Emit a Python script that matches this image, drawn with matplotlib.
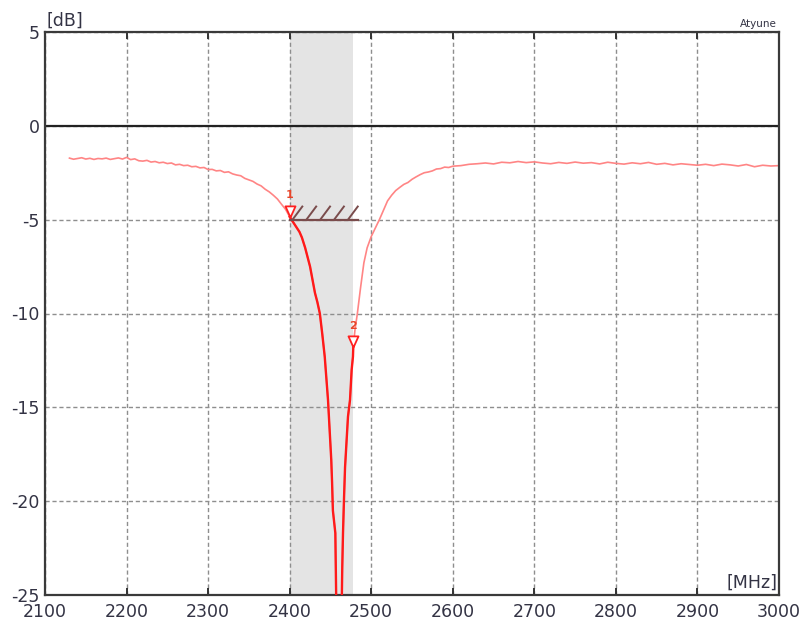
import matplotlib
matplotlib.use("Agg")
import matplotlib.pyplot as plt
import numpy as np

plt.rcParams["axes.unicode_minus"] = False

# ---- data ----
freq_mhz = [2130, 2135, 2140, 2145, 2150, 2155, 2160, 2165, 2170, 2175, 2180, 2185, 2190, 2195,
            2200, 2205, 2210, 2215, 2220, 2225, 2230, 2235, 2240, 2245, 2250, 2255, 2260, 2265,
            2270, 2275, 2280, 2285, 2290, 2295, 2300, 2305, 2310, 2315, 2320, 2325, 2330, 2335,
            2340, 2345, 2350, 2355, 2360, 2365, 2370, 2375, 2380, 2385, 2390, 2395,
            2400, 2403, 2406, 2409, 2412, 2415, 2419, 2422, 2425, 2428, 2431, 2434, 2437, 2440,
            2443, 2447, 2449, 2451, 2452, 2453, 2456, 2457, 2459, 2462, 2464, 2464.5, 2465.4,
            2466.6, 2467.9, 2470.3, 2471.5, 2474, 2476, 2477.6,
            2478, 2480, 2483, 2487, 2491, 2495, 2500, 2505, 2510, 2515, 2520, 2525, 2530, 2535,
            2540, 2545, 2550, 2555, 2560, 2565, 2570, 2575, 2580, 2585, 2590, 2595, 2600, 2610,
            2620, 2630, 2640, 2650, 2660, 2670, 2680, 2690, 2700, 2710, 2720, 2730, 2740, 2750,
            2760, 2770, 2780, 2790, 2800, 2810, 2820, 2830, 2840, 2850, 2860, 2870, 2880, 2890,
            2900, 2910, 2920, 2930, 2940, 2950, 2960, 2970, 2980, 2990, 3000]
trace_db = [-1.72, -1.78, -1.74, -1.70, -1.77, -1.73, -1.79, -1.74, -1.76, -1.72, -1.79, -1.75, -1.71, -1.77,
            -1.68, -1.80, -1.76, -1.86, -1.88, -1.84, -1.93, -1.90, -1.97, -1.94, -2.01, -1.98, -2.08, -2.05,
            -2.12, -2.10, -2.18, -2.16, -2.24, -2.22, -2.33, -2.32, -2.40, -2.38, -2.48, -2.45, -2.56, -2.62,
            -2.66, -2.80, -2.88, -2.96, -3.10, -3.20, -3.38, -3.52, -3.70, -3.90, -4.18, -4.45,
            -4.85, -5.05, -5.25, -5.45, -5.65, -5.95, -6.50, -7.00, -7.50, -8.20, -8.90, -9.40, -10.0, -11.1,
            -12.3, -14.6, -16.2, -17.8, -19.0, -20.5, -21.7, -25.0, -28.0, -28.0, -25.0, -23.5, -21.7,
            -19.9, -18.2, -16.4, -15.5, -14.6, -13.0, -12.3,
            -11.8, -10.9, -10.0, -8.6, -7.3, -6.5, -5.9, -5.45, -5.0, -4.5, -4.0, -3.7, -3.45, -3.28,
            -3.12, -3.02, -2.85, -2.72, -2.60, -2.50, -2.46, -2.40, -2.30, -2.28, -2.20, -2.22, -2.15, -2.12,
            -2.05, -2.02, -1.98, -2.03, -1.94, -1.97, -1.90, -1.96, -1.92, -1.98, -2.02, -1.95, -2.00, -1.93,
            -1.99, -1.96, -2.03, -1.94, -2.00, -2.04, -1.97, -2.02, -1.95, -2.05, -2.00, -2.08, -2.02, -2.06,
            -2.10, -2.05, -2.12, -2.04, -2.08, -2.14, -2.06, -2.18, -2.10, -2.14, -2.12]

marker_freq = [2400, 2478]
marker_db = [-4.85, -11.8]
marker_labels = ["1", "2"]

band_span = (2400, 2478)
limit_span = (2400, 2483.5)
limit_db = -5

x_ticks = list(range(2100, 3001, 100))
y_ticks = list(range(-25, 6, 5))

# ---- plot ----
fig = plt.figure(figsize=(8.03, 6.22), dpi=100)
ax = fig.add_axes([45 / 803, 27 / 622, 734 / 803, 563 / 622])

ax.set_xlim(2100, 3000)
ax.set_ylim(-25, 5)
ax.set_xticks(x_ticks)
ax.set_yticks(y_ticks)

ax.axvspan(*band_span, color="#e4e4e4", zorder=0.1, lw=0)
ax.set_axisbelow(True)
ax.grid(True, color="#8e8e8e", linestyle=(0, (3, 2)), linewidth=1.0)
ax.axhline(0, color="#222222", lw=1.6, zorder=1)

f = np.array(freq_mhz)
d = np.array(trace_db)
ax.plot(f, d, color="#ff8585", lw=1.2, zorder=2)
seg = (f >= marker_freq[0]) & (f <= marker_freq[1])
ax.plot(f[seg], d[seg], color="#ff1a1a", lw=1.7, zorder=3)

# limit line with hatch marks
lim_color = "#7a4c4c"
hatch_w = 12
ax.plot(limit_span, [limit_db, limit_db], color=lim_color, lw=1.6, zorder=4)
for x0 in np.arange(limit_span[0] + 3.5, limit_span[1] - hatch_w + 0.5, 17):
    ax.plot([x0, x0 + hatch_w], [limit_db, limit_db + 0.7], color=lim_color, lw=1.4, zorder=4)

# markers
tri = [(0, 0), (-0.9, 2), (0.9, 2), (0, 0)]
for mf, md, ml in zip(marker_freq, marker_db, marker_labels):
    ax.plot([mf], [md], marker=tri, markersize=16, markerfacecolor="white",
            markeredgecolor="#ff2020", markeredgewidth=1.3, ls="none", zorder=5)
    ax.annotate(ml, (mf, md), xytext=(0, 12), textcoords="offset points",
                ha="center", va="bottom", fontsize=8, fontweight="bold", color="#e8452a", zorder=6)

for s in ax.spines.values():
    s.set_color("#3a3a3a")
    s.set_linewidth(1.6)

ax.tick_params(axis="x", direction="in", length=5, width=1.4, color="#333333",
               top=True, bottom=True, labelsize=12.5, labelcolor="#333344", pad=6)
ax.tick_params(axis="y", length=0, labelsize=12.5, labelcolor="#333344", pad=4)

fig.text(47 / 803, 1 - 30 / 622, "[dB]", fontsize=12.5, color="#333344", ha="left", va="bottom")
ax.text(0.998, 0.005, "[MHz]", transform=ax.transAxes, fontsize=12.5, color="#333344",
        ha="right", va="bottom")
fig.text(777 / 803, 1 - 29 / 622, "Atyune", fontsize=7.5, color="#333344", ha="right", va="bottom")

fig.savefig("out.png", dpi=100)
